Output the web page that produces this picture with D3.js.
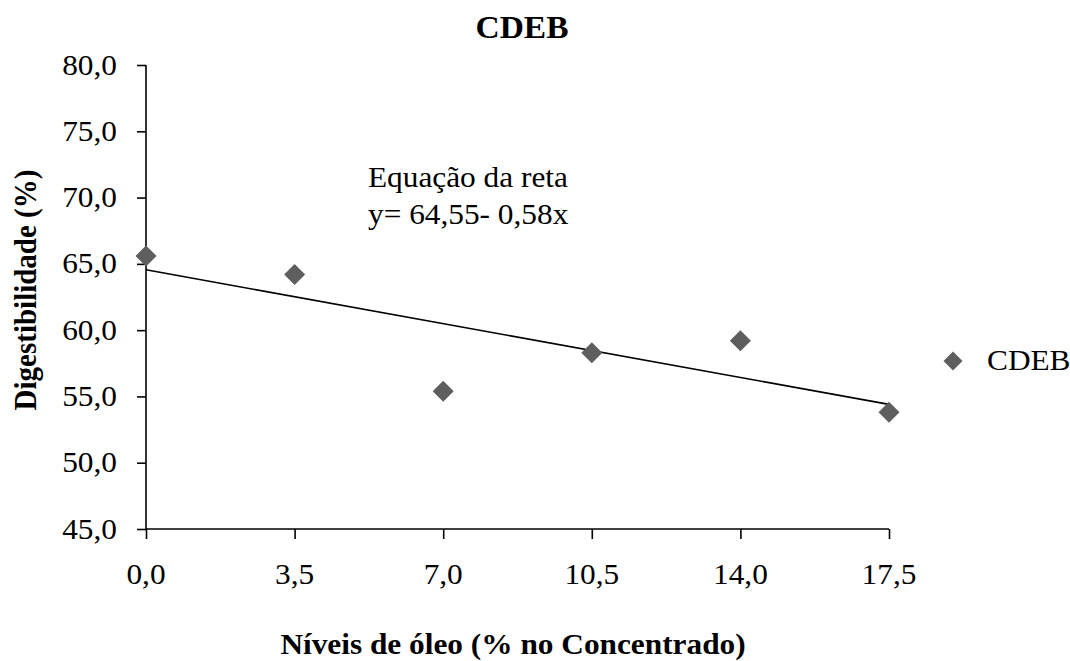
<!DOCTYPE html>
<html>
<head>
<meta charset="utf-8">
<script src="https://cdn.jsdelivr.net/npm/d3@7"></script>
<style>
  html, body { margin: 0; padding: 0; background: #fff; }
  svg { display: block; }
  text { font-family: "Liberation Serif", "Times New Roman", serif; fill: #000; }
</style>
</head>
<body>
<svg id="chart" width="1070" height="661"></svg>
<script>
// Oil levels in the concentrate (%) and CDEB digestibility (%)
const oilLevels = [0, 3.5, 7.0, 10.5, 14.0, 17.5];
const digestibility = [65.6, 64.2, 55.4, 58.3, 59.2, 53.8];
const xTicks = [0, 3.5, 7.0, 10.5, 14.0, 17.5];
const yTicks = [45, 50, 55, 60, 65, 70, 75, 80];
// Fitted line: y = 64,55 - 0,58x
const lineIntercept = 64.55;
const lineSlope = -0.58;
const seriesName = "CDEB";

const svg = d3.select("#chart");
const stretch = 1.08;
const fs = 29;

const x = d3.scaleLinear().domain([0, 17.5]).range([146, 889]);
const y = d3.scaleLinear().domain([45, 80]).range([529, 65]);
const fmt = v => d3.format(".1f")(v).replace(".", ",");

// text helper with slight horizontal widening of the glyphs
function label(px, py, str, opts = {}) {
  const t = svg.append("text")
    .attr("transform", `translate(${px},${py})${opts.rotate ? " rotate(" + opts.rotate + ")" : ""} scale(${opts.rotate ? 1 : stretch},${opts.rotate ? stretch : 1})`)
    .attr("text-anchor", opts.anchor || "start")
    .attr("font-size", opts.size || fs)
    .text(str);
  if (opts.bold) t.attr("font-weight", "bold");
  return t;
}

// Y axis
const yAxis = svg.append("g")
  .attr("transform", `translate(${x(0)},0)`)
  .call(d3.axisLeft(y).tickValues(yTicks).tickSize(9).tickFormat(""));
// X axis
const xAxis = svg.append("g")
  .attr("transform", `translate(0,${y(45)})`)
  .call(d3.axisBottom(x).tickValues(xTicks).tickSize(10).tickFormat(""));
[yAxis, xAxis].forEach(g => {
  g.select(".domain").attr("stroke", "#000").attr("stroke-width", 1.6);
  g.selectAll(".tick line").attr("stroke", "#000").attr("stroke-width", 1.6);
});
// remove the outer end caps of the domain paths
yAxis.select(".domain").attr("d", `M0,${y(80)}V${y(45)}`);
xAxis.select(".domain").attr("d", `M${x(0)},0H${x(17.5)}`);

// tick labels
yTicks.forEach(v => label(117, y(v) + 9.5, fmt(v), { anchor: "end" }));
xTicks.forEach(v => label(x(v), 584, fmt(v), { anchor: "middle" }));

// trend line
svg.append("line")
  .attr("x1", x(0)).attr("y1", y(lineIntercept))
  .attr("x2", x(17.5)).attr("y2", y(lineIntercept + lineSlope * 17.5))
  .attr("stroke", "#000").attr("stroke-width", 1.6);

// data markers (diamonds)
const diamond = r => `M0,${-r}L${r},0L0,${r}L${-r},0Z`;
svg.selectAll("path.pt")
  .data(oilLevels.map((v, i) => [v, digestibility[i]]))
  .join("path")
  .attr("class", "pt")
  .attr("d", diamond(10.5))
  .attr("transform", d => `translate(${x(d[0])},${y(d[1])})`)
  .attr("fill", "#5e5e5e");

// equation annotation
label(368, 187, "Equação da reta");
label(368, 224, "y= 64,55- 0,58x");

// legend
svg.append("path").attr("d", diamond(9.5))
  .attr("transform", "translate(953,361)").attr("fill", "#5e5e5e");
label(987, 370, seriesName);

// title and axis titles
label(522, 38, "CDEB", { anchor: "middle", bold: true, size: 31 });
label(36, 290, "Digestibilidade (%)", { anchor: "middle", bold: true, rotate: -90 });
label(513, 654, "Níveis de óleo (% no Concentrado)", { anchor: "middle", bold: true });
</script>
</body>
</html>
